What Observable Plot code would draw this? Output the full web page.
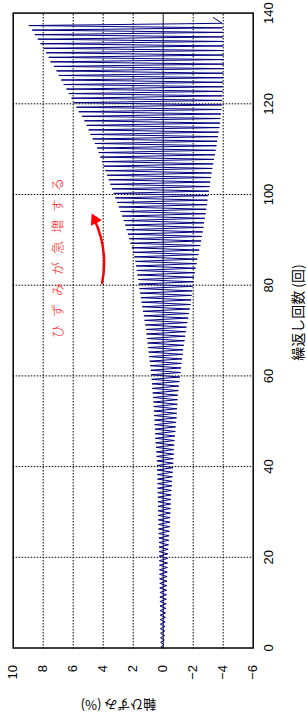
<!DOCTYPE html>
<html><head><meta charset="utf-8">
<script src="https://cdn.jsdelivr.net/npm/d3@7"></script>
<script src="https://cdn.jsdelivr.net/npm/@observablehq/plot@0.6"></script>
<style>
html,body{margin:0;padding:0;background:#fff;overflow:hidden;width:307px;height:719px;}
#wrap{position:absolute;left:0;top:0;width:719px;height:307px;transform-origin:0 0;transform:translateY(719px) rotate(-90deg);}
</style></head><body><div id="wrap"></div>
<script>
// per-cycle strain peaks (%), cycles 0..137
const peakMax = [
0.15,0.17,0.18,0.18,0.19,0.19,0.20,0.20,0.21,0.21,
0.22,0.22,0.22,0.23,0.23,0.24,0.24,0.25,0.25,0.26,
0.27,0.27,0.28,0.28,0.29,0.30,0.31,0.31,0.32,0.33,
0.34,0.34,0.35,0.36,0.36,0.37,0.38,0.38,0.39,0.40,
0.40,0.42,0.44,0.46,0.48,0.51,0.52,0.54,0.55,0.57,
0.58,0.60,0.62,0.63,0.65,0.67,0.70,0.72,0.75,0.77,
0.80,0.83,0.86,0.90,0.93,0.97,1.00,1.04,1.07,1.11,
1.14,1.19,1.24,1.29,1.34,1.40,1.44,1.49,1.54,1.58,
1.63,1.67,1.72,1.76,1.81,1.85,1.93,2.01,2.09,2.18,
2.26,2.35,2.44,2.53,2.63,2.73,2.84,2.96,3.07,3.19,
3.30,3.41,3.52,3.63,3.74,3.85,3.96,4.08,4.19,4.30,
4.40,4.55,4.70,4.84,4.97,5.10,5.25,5.40,5.63,5.78,
5.96,6.11,6.29,6.45,6.63,6.80,6.96,7.11,7.29,7.51,
7.63,7.80,7.96,8.18,8.36,8.56,8.73,8.96];
const peakMin = [
-0.05,-0.07,-0.09,-0.10,-0.12,-0.13,-0.15,-0.16,-0.18,-0.20,
-0.21,-0.22,-0.23,-0.24,-0.25,-0.26,-0.27,-0.28,-0.29,-0.30,
-0.31,-0.33,-0.35,-0.37,-0.39,-0.41,-0.43,-0.45,-0.46,-0.48,
-0.49,-0.50,-0.52,-0.53,-0.55,-0.57,-0.59,-0.61,-0.63,-0.65,
-0.67,-0.68,-0.70,-0.71,-0.73,-0.75,-0.78,-0.81,-0.83,-0.86,
-0.89,-0.90,-0.92,-0.94,-0.95,-0.97,-1.01,-1.04,-1.08,-1.11,
-1.15,-1.19,-1.22,-1.26,-1.30,-1.33,-1.37,-1.42,-1.46,-1.51,
-1.55,-1.60,-1.66,-1.71,-1.77,-1.82,-1.86,-1.89,-1.93,-1.96,
-2.00,-2.05,-2.11,-2.16,-2.22,-2.27,-2.34,-2.40,-2.47,-2.53,
-2.58,-2.63,-2.68,-2.72,-2.77,-2.82,-2.87,-2.91,-2.95,-3.00,
-3.04,-3.09,-3.13,-3.18,-3.22,-3.27,-3.33,-3.38,-3.44,-3.49,
-3.55,-3.60,-3.65,-3.69,-3.74,-3.78,-3.81,-3.85,-3.88,-3.91,
-3.93,-3.94,-3.96,-3.97,-3.98,-3.99,-4.00,-4.02,-4.04,-4.03,
-4.02,-4.01,-4.00,-4.00,-3.99,-3.98,-3.96,-3.93];
const startPoint = {c: 0, s: 0};
const endPoint = {c: 139.0, s: -3.35};

const xTicks = [0, 20, 40, 60, 80, 100, 120, 140];
const yTicks = [-6, -4, -2, 0, 2, 4, 6, 8, 10];
const xGrid = [20, 40, 60, 80, 100, 120];
const yGrid = [-4, -2, 2, 4, 6, 8];
const xLabel = "繰返し回数 (回)";
const yLabel = "軸ひずみ (%)";
const notes = [{c: 86, s: 7.0, text: "ひずみが急増する"}];
const arrows = [{c1: 80.5, s1: 4.07, c2: 94.6, s2: 4.6}];
const arrowTips = [{c: 95.2, s: 4.67}];

const series = [startPoint];
peakMax.forEach((v, i) => {
  series.push({c: i + 0.25, s: v});
  series.push({c: i + 0.75, s: peakMin[i]});
});
series.push(endPoint);

const jp = "'Noto Sans CJK JP', sans-serif";
const chart = Plot.plot({
  width: 719, height: 307,
  marginLeft: 70.5, marginRight: 13.6, marginTop: 12.7, marginBottom: 54.3,
  style: {fontFamily: "'Liberation Sans', Arial, sans-serif", fontSize: "13px", background: "white", overflow: "visible"},
  x: {domain: [0, 140]},
  y: {domain: [-6, 10]},
  marks: [
    Plot.gridX(xGrid, {stroke: "#000", strokeOpacity: 1, strokeDasharray: "1.5,1.5"}),
    Plot.gridY(yGrid, {stroke: "#000", strokeOpacity: 1, strokeDasharray: "1.5,1.5"}),
    Plot.ruleY([0], {stroke: "#111", strokeWidth: 1}),
    Plot.line(series, {x: "c", y: "s", stroke: "#000080", strokeWidth: 1}),
    Plot.axisX(xTicks, {tickSize: 0, tickPadding: 11, label: null, fill: "#000"}),
    Plot.axisY(yTicks, {tickSize: 0, tickPadding: 17, label: null, fill: "#000"}),
    Plot.text([xLabel], {frameAnchor: "bottom", textAnchor: "middle", lineAnchor: "middle", dx: 18, dy: 45.3, text: d => d, fontFamily: jp, fontSize: 14, fill: "#000"}),
    Plot.text([yLabel], {frameAnchor: "left", textAnchor: "middle", lineAnchor: "middle", dx: -56.5, dy: -14.7, rotate: -90, text: d => d, fontFamily: jp, fontSize: 13, fill: "#000"}),
    Plot.text(notes, {x: "c", y: "s", text: "text", fontFamily: jp, fontSize: 13, fontWeight: 300, fill: "#ff2020", dx: 4}),
    Plot.arrow(arrows, {x1: "c1", y1: "s1", x2: "c2", y2: "s2", bend: -18, stroke: "#ff0000", strokeWidth: 2.5, headLength: 0}),
    Plot.dot(arrowTips, {x: "c", y: "s", symbol: "triangle", r: 4.6, fill: "#ff0000", stroke: "none", rotate: 64, dx: -3.6, dy: 1.7}),
    Plot.frame({stroke: "#000", strokeWidth: 1.5})
  ]
});
document.getElementById("wrap").appendChild(chart);
d3.select(chart).selectAll("text")
  .filter(function() { return this.textContent === notes[0].text; })
  .attr("letter-spacing", "8px").style("letter-spacing", "8px");
</script></body></html>
